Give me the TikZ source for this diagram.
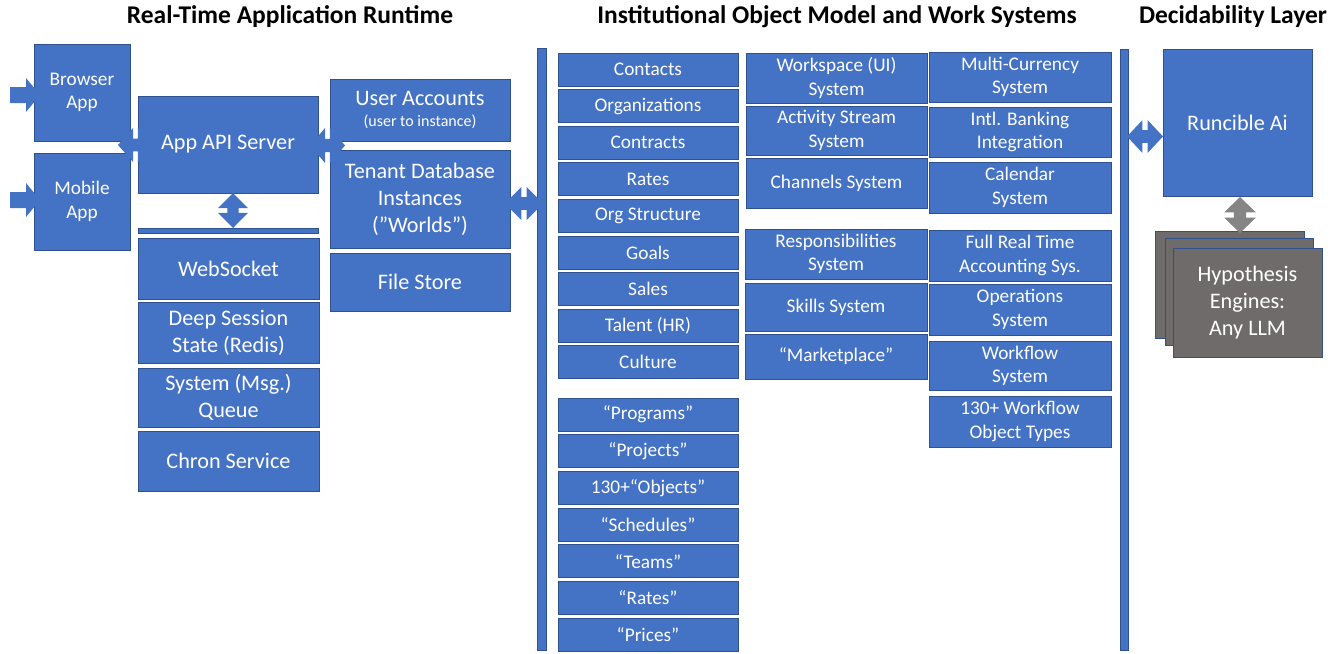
\documentclass[tikz,border=0pt]{standalone}
\usepackage{fontspec}
\setmainfont{Carlito}
\definecolor{boxblue}{HTML}{4472C4}
\definecolor{boxedge}{HTML}{2F528F}
\definecolor{enggray}{HTML}{706B6B}
\definecolor{arrgray}{HTML}{858585}
\newcommand\bx[7][]{\node[box,#1,minimum width={(#5-#3)*1pt},minimum height={(#6-#4)*1pt}] (#2) at ({(#3+#5)/2},{(#4+#6)/2}) {#7};}
% horizontal double block arrow: name, x0,y0,x1,y1, colour
\newcommand\hdbl[6]{%
  \coordinate (#1) at ({(#2+#4)/2},{(#3+#5)/2});
  \path[fill=#6] (#2,{(#3+#5)/2}) -- ({#2+0.43*(#4-#2)},#3) -- ({#2+0.43*(#4-#2)},{#3+0.31*(#5-#3)})
   -- ({#4-0.43*(#4-#2)},{#3+0.31*(#5-#3)}) -- ({#4-0.43*(#4-#2)},#3) -- (#4,{(#3+#5)/2})
   -- ({#4-0.43*(#4-#2)},#5) -- ({#4-0.43*(#4-#2)},{#5-0.31*(#5-#3)})
   -- ({#2+0.43*(#4-#2)},{#5-0.31*(#5-#3)}) -- ({#2+0.43*(#4-#2)},#5) -- cycle;}
% vertical double block arrow
\newcommand\vdbl[6]{%
  \coordinate (#1) at ({(#2+#4)/2},{(#3+#5)/2});
  \path[fill=#6] ({(#2+#4)/2},#3) -- (#4,{#3+0.43*(#5-#3)}) -- ({#4-0.31*(#4-#2)},{#3+0.43*(#5-#3)})
   -- ({#4-0.31*(#4-#2)},{#5-0.43*(#5-#3)}) -- (#4,{#5-0.43*(#5-#3)}) -- ({(#2+#4)/2},#5)
   -- (#2,{#5-0.43*(#5-#3)}) -- ({#2+0.31*(#4-#2)},{#5-0.43*(#5-#3)})
   -- ({#2+0.31*(#4-#2)},{#3+0.43*(#5-#3)}) -- (#2,{#3+0.43*(#5-#3)}) -- cycle;}
\tikzset{
  box/.style={draw=boxedge,fill=boxblue,line width=0.7pt,text=white,align=center,inner sep=0pt,
    font=\fontsize{19.3}{23.3}\selectfont},
  big/.style={font=\fontsize{22.2}{27}\selectfont},
  eng/.style={box,fill=enggray,big},
  title/.style={font=\fontsize{25.5}{30}\selectfont\bfseries,anchor=base,inner sep=0pt},
}
\begin{document}
\begin{tikzpicture}[x=1pt,y=-1pt]
\useasboundingbox (0,0) rectangle (1338,653);
% titles
\node[title] (t1) at (290,23.5) {Real-Time Application Runtime};
\node[title] (t2) at (837,23.5) {Institutional Object Model and Work Systems};
\node[title] (t3) at (1233,23.5) {Decidability Layer};
% left column
\bx{browser}{34}{44}{130}{141}{Browser\\App}
\bx{mobile}{34}{153}{130}{250}{Mobile\\App}
\bx[big]{api}{138}{96}{318}{193}{App API Server}
\bx{bus}{138}{228}{318}{233}{}
\bx[big]{websocket}{138}{238}{319}{299}{WebSocket}
\bx[big]{redis}{138}{302}{319}{363}{Deep Session\\State (Redis)}
\bx[big]{queue}{138}{368}{319}{427}{System (Msg.)\\Queue}
\bx[big]{chron}{138}{431}{319}{491}{Chron Service}
% third column
\bx[big]{accounts}{330}{79}{510}{141}{User Accounts\\[-6pt]{\fontsize{16}{19}\selectfont (user to instance)}}
\bx[big]{tenant}{330}{150}{510}{248}{Tenant Database\\Instances\\(”Worlds”)}
\bx[big]{files}{330}{253}{510}{311}{File Store}
% bar 1
\bx{bar1}{537}{48}{546}{650}{}
% object column
\bx{contacts}{558}{53}{738}{86}{Contacts}
\bx{orgs}{558}{89.6}{738}{122.6}{Organizations}
\bx{contracts}{558}{126.2}{738}{159.2}{Contracts}
\bx{rates}{558}{162.8}{738}{195.8}{Rates}
\bx{orgstruct}{558}{199.4}{738}{232.4}{Org Structure}
\bx{goals}{558}{236}{738}{269}{Goals}
\bx{sales}{558}{272.6}{738}{305.6}{Sales}
\bx{talent}{558}{309.2}{738}{342.2}{Talent (HR)}
\bx{culture}{558}{345.8}{738}{378.8}{Culture}
\bx{programs}{558}{398}{738}{431}{“Programs”}
\bx{projects}{558}{434.7}{738}{467.7}{“Projects”}
\bx{objects}{558}{471.4}{738}{504.4}{130+“Objects”}
\bx{schedules}{558}{508.1}{738}{541.1}{“Schedules”}
\bx{teams}{558}{544.8}{738}{577.8}{“Teams”}
\bx{qrates}{558}{581.5}{738}{614.5}{“Rates”}
\bx{prices}{558}{618.2}{738}{651.2}{“Prices”}
% systems column
\bx{workspace}{746}{53}{927}{103}{Workspace (UI)\\System}
\bx{activity}{746}{106}{927}{155}{Activity Stream\\System}
\bx{channels}{746}{158}{927}{208}{Channels System}
\bx{resp}{745}{229}{927}{279}{Responsibilities\\System}
\bx{skills}{745}{283}{927}{331}{Skills System}
\bx{market}{745}{334}{927}{379}{“Marketplace”}
% systems column 2
\bx{currency}{929}{52}{1111}{102}{Multi-Currency\\System}
\bx{banking}{929}{107}{1111}{157}{Intl. Banking\\Integration}
\bx{calendar}{929}{162}{1111}{213}{Calendar\\System}
\bx{accounting}{929}{230}{1111}{281}{Full Real Time\\Accounting Sys.}
\bx{operations}{929}{284}{1111}{335}{Operations\\System}
\bx{workflow}{929}{341}{1111}{390}{Workflow\\System}
\bx{wftypes}{929}{396}{1111}{447}{130+ Workflow\\Object Types}
% bar 2
\bx{bar2}{1120}{49}{1128}{650}{}
% decidability
\bx[big]{runcible}{1163}{49}{1312}{196}{Runcible Ai}
\bx[eng]{engback}{1155}{231}{1304}{338}{}
\bx[eng]{engmid}{1165}{238}{1313}{345}{}
\bx[eng]{engines}{1173}{248}{1322}{357}{Hypothesis\\Engines:\\Any LLM}
% arrows (on top)
\path[fill=boxblue] (10,87) -- (26,87) -- (26,78) -- (40,95) -- (26,112) -- (26,103) -- (10,103) -- cycle;
\path[fill=boxblue] (10,192) -- (26,192) -- (26,183) -- (40,200) -- (26,217) -- (26,208) -- (10,208) -- cycle;
\coordinate (inB) at (10,95);
\coordinate (inM) at (10,200);
\hdbl{a1}{118}{128}{153}{162}{boxblue}
\hdbl{a2}{310}{128}{345}{163}{boxblue}
\vdbl{a3}{218}{193}{248}{228}{boxblue}
\hdbl{a4}{505}{187}{543}{220}{boxblue}
\hdbl{a5}{1127}{120}{1163}{153}{boxblue}
\vdbl{a6}{1224}{197}{1256}{233}{arrgray}
\end{tikzpicture}
\end{document}
